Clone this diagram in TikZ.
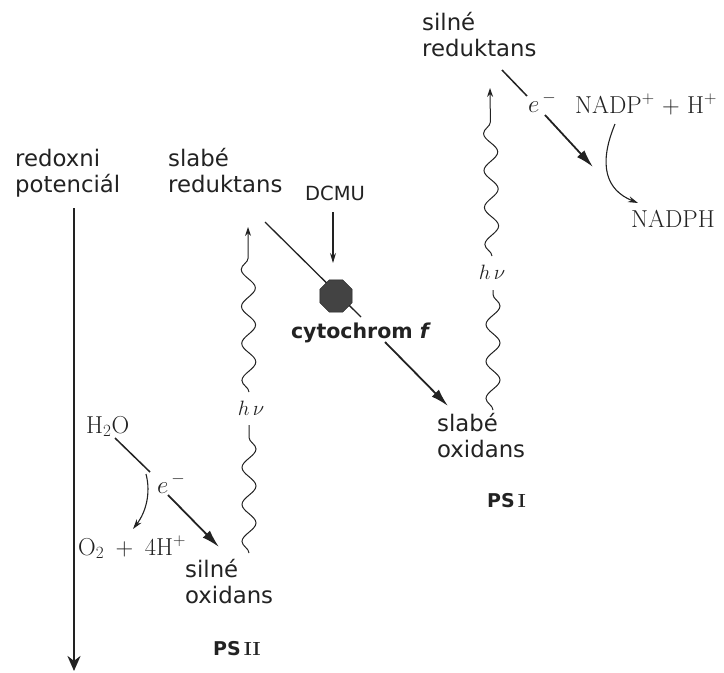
\documentclass[tikz,border=0pt]{standalone}
\usepackage{fontspec}
\newfontfamily\lab{DejaVu Sans}
\usetikzlibrary{arrows.meta,decorations.pathmorphing,shapes.geometric}
\definecolor{ink}{HTML}{222222}
\tikzset{
  lbl/.style={font=\lab\fontsize{22.8}{25.5}\selectfont, align=left, inner sep=0pt, anchor=base west, text=ink},
  ser/.style={font=\fontsize{24.5}{26}\selectfont, inner sep=0pt, anchor=base west, text=ink},
  hnu/.style={font=\fontsize{21}{23}\selectfont, inner sep=0pt, text=ink},
  pslbl/.style={font=\fontsize{19}{21}\selectfont, inner sep=0pt, anchor=base west, text=ink},
  wave/.style={draw=ink, line width=1pt, decorate, decoration={snake, segment length=37pt, amplitude=7pt}},
  wavetip/.style={wave, decoration={snake, segment length=37pt, amplitude=7pt, post length=22pt}, -{Stealth[length=9pt,width=6pt]}},
  etransfer/.style={draw=ink, line width=1.8pt, -{Latex[length=18pt,width=10pt]}},
  eline/.style={draw=ink, line width=1.5pt},
  fine/.style={draw=ink, line width=1.1pt, -{Stealth[length=10pt,width=6pt]}},
  axis/.style={draw=ink, line width=2.8pt, -{Stealth[length=15pt,width=13pt]}},
  cyto/.style={regular polygon, regular polygon sides=8, minimum size=35pt, inner sep=0pt, fill=ink!85!white, draw=ink}
}
\begin{document}
\begin{tikzpicture}[x=1pt,y=-1pt]
\useasboundingbox (0,0) rectangle (724,673);
% redox potential axis
\node[lbl] (redox) at (15,192) {redoxni\\potenciál};
\coordinate (ax0) at (74,208);
\coordinate (ax1) at (74,671);
\draw[axis] (ax0) -- (ax1);

% labels
\node[lbl] (slabred) at (168,192) {slabé\\reduktans};
\node[lbl] (silox) at (185,603) {silné\\oxidans};
\node[lbl] (slabox) at (437,457) {slabé\\oxidans};
\node[lbl] (silred) at (422,56) {silné\\reduktans};
\node[font=\lab\fontsize{19.5}{21}\selectfont, inner sep=0pt, text=ink] (dcmu) at (335,193) {DCMU};
\node[font=\lab\bfseries\fontsize{20.5}{23}\selectfont, inner sep=0pt, anchor=base, text=ink] (cytlbl) at (361,338) {cytochrom \textit{f}};
\node[pslbl] (psii) at (213,655) {\lab\bfseries PS\,\rmfamily II};
\node[pslbl] (psi) at (487,507) {\lab\bfseries PS\,\rmfamily I};

% chemistry
\node[ser] (h2o) at (86,433) {H\textsubscript{2}O};
\node[ser] (o2) at (78,555) {O\textsubscript{2}\, + \,4H\textsuperscript{+}};
\node[ser] (elow) at (157,493) {$e^{\,-}$};
\node[ser] (eup) at (528,112) {$e^{\,-}$};
\node[ser] (nadp) at (575,113) {NADP\textsuperscript{+} + H\textsuperscript{+}};
\node[ser] (nadph) at (631,227) {NADPH};
\node[hnu] (hnuII) at (251,408) {$h\,\nu$};
\node[hnu] (hnuI) at (492,272) {$h\,\nu$};

% PSII light excitation
\coordinate (wIIa) at (249,553);
\coordinate (wIIb) at (249,425);
\coordinate (wIIc) at (249,392);
\coordinate (wIId) at (248,227);
\draw[wave] (wIIa) -- (wIIb);
\draw[wavetip] (wIIc) -- (wIId);

% PSI light excitation
\coordinate (wIa) at (493,410);
\coordinate (wIb) at (493,290);
\coordinate (wIc) at (492,256);
\coordinate (wId) at (490,88);
\draw[wave] (wIa) -- (wIb);
\draw[wavetip] (wIc) -- (wId);

% electron transport chain
\coordinate (d0) at (265,222);
\coordinate (d1) at (361,317);
\coordinate (d2) at (385,342);
\coordinate (d3) at (448,406);
\draw[eline, line width=1.3pt] (d0) -- (d1);
\node[cyto] (cyt) at (336,296) {};
\draw[etransfer] (d2) -- (d3);

% DCMU inhibitor arrow
\coordinate (m0) at (333,212);
\coordinate (m1) at (333,263);
\draw[fine] (m0) -- (m1);

% water splitting
\coordinate (h0) at (115,438);
\coordinate (h1) at (150,472);
\coordinate (c0) at (146,474);
\coordinate (c1) at (133,529);
\coordinate (e0) at (168,495);
\coordinate (e1) at (219,547);
\draw[eline] (h0) -- (h1);
\draw[fine] (c0) .. controls (151,493) and (146,512) .. (c1);
\draw[etransfer] (e0) -- (e1);

% NADP reduction
\coordinate (t0) at (502,70);
\coordinate (t1) at (527,96);
\coordinate (t2) at (545,115);
\coordinate (t3) at (593,167);
\coordinate (n0) at (615,124);
\coordinate (n1) at (638,203);
\draw[eline] (t0) -- (t1);
\draw[etransfer] (t2) -- (t3);
\draw[fine] (n0) .. controls (598,165) and (606,190) .. (n1);
\end{tikzpicture}
\end{document}
